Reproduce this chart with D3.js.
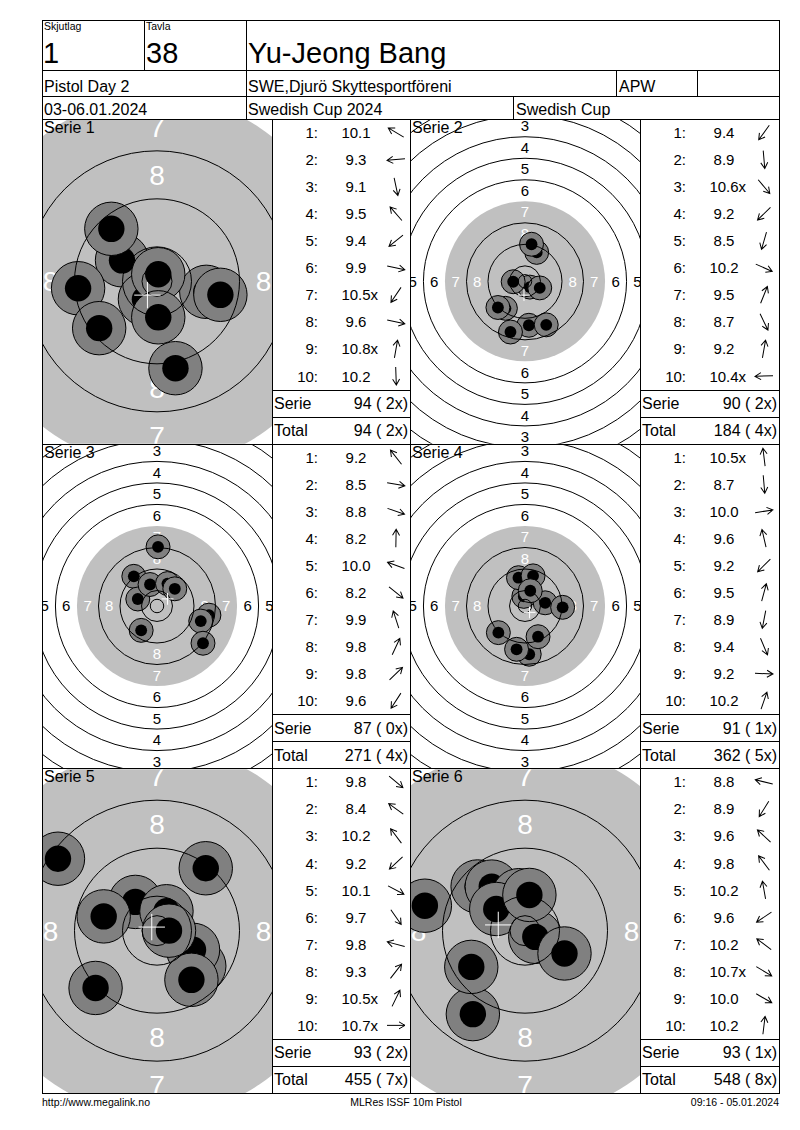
<!DOCTYPE html>
<html>
<head>
<meta charset="utf-8">
<script src="https://cdn.jsdelivr.net/npm/d3@7"></script>
<style>
  body { margin: 0; background: #fff; }
  svg { display: block; font-family: "Liberation Sans", Arial, sans-serif; }
</style>
</head>
<body>
<svg id="card" width="800" height="1130"></svg>
<script>
// header texts
const skjutlag = '1';
const tavla = '38';
const shooter = 'Yu-Jeong Bang';
const eventName = 'Pistol Day 2';
const club = 'SWE,Djurö Skyttesportföreni';
const klass = 'APW';
const dates = '03-06.01.2024';
const competition = 'Swedish Cup 2024';
const cup = 'Swedish Cup';
const footer = ['http://www.megalink.no', 'MLRes ISSF 10m Pistol', '09:16 - 05.01.2024'];

// shot values per series (decimal score) and direction of the hit (degrees, clockwise from 12 o'clock)
const scores1 = [10.1, 9.3, 9.1, 9.5, 9.4, 9.9, 10.5, 9.6, 10.8, 10.2];
const dirs1   = [301, 265, 168, 319, 231, 102, 214, 102, 10, 178];
const scores2 = [9.4, 8.9, 10.6, 9.2, 8.5, 10.2, 9.5, 8.7, 9.2, 10.4];
const dirs2   = [216, 175, 140, 226, 196, 114, 22, 154, 10, 268];
const scores3 = [9.2, 8.5, 8.8, 8.2, 10.0, 8.2, 9.9, 9.8, 9.8, 9.6];
const dirs3   = [322, 100, 109, 1, 290, 129, 342, 25, 46, 213];
const scores4 = [10.5, 8.7, 10.0, 9.6, 9.2, 9.5, 8.9, 9.4, 9.2, 10.2];
const dirs4   = [353, 175, 81, 347, 225, 15, 191, 157, 92, 19];
const scores5 = [9.8, 8.4, 10.2, 9.2, 10.1, 9.7, 9.8, 9.3, 10.5, 10.7];
const dirs5   = [130, 306, 323, 227, 118, 145, 285, 38, 26, 90];
const scores6 = [8.8, 8.9, 9.6, 9.8, 10.2, 9.6, 10.2, 10.7, 10.0, 10.2];
const dirs6   = [284, 212, 313, 323, 350, 236, 307, 121, 120, 7];

const serieNames = ['Serie 1', 'Serie 2', 'Serie 3', 'Serie 4', 'Serie 5', 'Serie 6'];
const serieViews = ['near', 'far', 'far', 'far', 'near', 'near'];

const allScores = [scores1, scores2, scores3, scores4, scores5, scores6];
const allDirs = [dirs1, dirs2, dirs3, dirs4, dirs5, dirs6];

// ISSF 10m air pistol target (mm)
const INNER_TEN = 10.4;
const ringR = k => 5.75 + 8 * (10 - k);     // outer radius of ring k
const xRingR = 2.5;
const pelletR = 2.2, haloR = 4.45;
const views = {
  near: { pxmm: 6.0, font: 28, black: 30.8 },
  far: { pxmm: 2.69, font: 15, black: ringR(7) }
};

const svg = d3.select('#card');
const L = 42, R = 779, T = 20, B = 1093;
const gridTop = 119, blockH = (B - gridTop) / 3;

function hline(y, x1, x2) {
  svg.append('line').attr('x1', x1).attr('x2', x2).attr('y1', Math.round(y) + 0.5).attr('y2', Math.round(y) + 0.5)
    .attr('stroke', '#000');
}
function vline(x, y1, y2) {
  svg.append('line').attr('x1', Math.round(x) + 0.5).attr('x2', Math.round(x) + 0.5).attr('y1', y1).attr('y2', y2)
    .attr('stroke', '#000');
}
function text(x, y, str, size, anchor) {
  return svg.append('text').attr('x', x).attr('y', y).attr('font-size', size)
    .attr('text-anchor', anchor || 'start').attr('fill', '#000').text(str);
}

// ---- header ----
text(44, 30, 'Skjutlag', 10.5);
text(146, 30, 'Tavla', 10.5);
text(43, 63, skjutlag, 29);
text(146, 63, tavla, 29);
text(248, 63, shooter, 29);
text(44, 92, eventName, 16);
text(248, 92, club, 16);
text(619, 92, klass, 16);
text(44, 114.5, dates, 16);
text(248, 114.5, competition, 16);
text(516, 114.5, cup, 16);

// ---- the six series ----
allScores.forEach((sc, i) => {
  const row = Math.floor(i / 2), col = i % 2;
  const y0 = gridTop + row * blockH, y1 = y0 + blockH;
  const tx0 = col ? 410 : 42, tx1 = col ? 640 : 272, sx1 = col ? 779 : 410;
  const v = views[serieViews[i]];
  const cx = (tx0 + tx1) / 2, cy = (y0 + y1) / 2;

  const x = d3.scaleLinear().domain([-1, 1]).range([cx - v.pxmm, cx + v.pxmm]);
  const y = d3.scaleLinear().domain([-1, 1]).range([cy + v.pxmm, cy - v.pxmm]);
  const r = d3.scaleLinear().domain([0, 1]).range([0, v.pxmm]);

  const shots = sc.map((s, j) => {
    const d = 8 * (10.95 - s);
    const a = allDirs[i][j] * Math.PI / 180;
    return { score: s, dir: allDirs[i][j], mx: d * Math.sin(a), my: d * Math.cos(a) };
  });

  const clipId = 'clip' + i;
  svg.append('clipPath').attr('id', clipId).append('rect')
    .attr('x', tx0 + 1).attr('y', y0 + 1).attr('width', tx1 - tx0 - 1).attr('height', y1 - y0 - 1);
  const g = svg.append('g').attr('clip-path', `url(#${clipId})`);

  g.append('circle').attr('cx', x(0)).attr('cy', y(0)).attr('r', r(v.black)).attr('fill', '#c0c0c0');

  // ring numbers
  const labels = [];
  d3.range(1, 9).forEach(k => {
    const m = 1.75 + 8 * (10 - k);
    [[0, m], [0, -m], [-m, 0], [m, 0]].forEach(p => labels.push({ k, px: p[0], py: p[1] }));
  });
  g.selectAll('text.num').data(labels).join('text')
    .attr('x', d => x(d.px)).attr('y', d => y(d.py))
    .attr('dy', '0.36em')
    .attr('text-anchor', 'middle').attr('font-size', v.font)
    .attr('fill', d => d.k >= 7 ? '#fff' : '#000')
    .text(d => d.k);

  // shots
  const sg = g.selectAll('g.shot').data(shots).join('g');
  sg.append('circle').attr('cx', d => x(d.mx)).attr('cy', d => y(d.my)).attr('r', r(haloR))
    .attr('fill', '#808080').attr('stroke', '#000').attr('stroke-width', 1);
  sg.append('circle').attr('cx', d => x(d.mx)).attr('cy', d => y(d.my)).attr('r', r(pelletR))
    .attr('fill', '#000');

  g.append('text').attr('x', tx0 + 2).attr('y', y0 + 14).attr('font-size', 16).text(serieNames[i]);

  // ring lines
  const rings = [1, 2, 3, 4, 5, 6, 8, 9, 10].map(ringR).concat([xRingR]);
  g.selectAll('circle.ring').data(rings).join('circle')
    .attr('cx', x(0)).attr('cy', y(0)).attr('r', d => r(d))
    .attr('fill', 'none').attr('stroke', '#000').attr('stroke-width', 1);

  // group centre cross
  const mx = d3.mean(shots, d => d.mx), my = d3.mean(shots, d => d.my);
  g.append('path')
    .attr('d', `M${x(mx - 2.2)},${y(my)}H${x(mx + 2.2)}M${x(mx)},${y(my - 2.2)}V${y(my + 2.2)}`)
    .attr('stroke', '#fff').attr('stroke-width', 1).attr('fill', 'none');

  // ---- score column ----
  const sx0 = tx1;
  const rh = blockH / 12;
  shots.forEach((d, j) => {
    const yc = y0 + rh * (j + 0.5);
    text(sx0 + 46, yc + 5.5, (j + 1) + ':', 15, 'end');
    const num = text(sx0 + 84, yc + 5.5, d.score.toFixed(1), 15, 'middle');
    if (d.score >= INNER_TEN) {
      const w = num.node().getComputedTextLength();
      text(sx0 + 84 + w / 2, yc + 5.5, 'x', 15);
    }
    svg.append('path')
      .attr('d', 'M0,9V-9M-3.5,-3L0,-9L3.5,-3')
      .attr('transform', `translate(${sx0 + 124},${yc}) rotate(${d.dir})`)
      .attr('fill', 'none').attr('stroke', '#000').attr('stroke-width', 1);
  });

  const serieSum = d3.sum(sc, s => Math.floor(s));
  const serieX = sc.filter(s => s >= INNER_TEN).length;
  const prev = allScores.slice(0, i + 1);
  const totSum = d3.sum(prev, a => d3.sum(a, s => Math.floor(s)));
  const totX = d3.sum(prev, a => a.filter(s => s >= INNER_TEN).length);
  const fmt = (n, xn) => `${n} (${String(xn).padStart(2, '\u00A0')}x)`;

  const ySerie = y0 + rh * 10, yTotal = y0 + rh * 11;
  hline(ySerie, sx0, sx1);
  hline(yTotal, sx0, sx1);
  text(sx0 + 2, ySerie + rh / 2 + 6, 'Serie', 16);
  text(sx1 - 2, ySerie + rh / 2 + 6, fmt(serieSum, serieX), 16, 'end');
  text(sx0 + 2, yTotal + rh / 2 + 6, 'Total', 16);
  text(sx1 - 2, yTotal + rh / 2 + 6, fmt(totSum, totX), 16, 'end');
});

// ---- grid lines ----
svg.append('rect').attr('x', L + 0.5).attr('y', T + 0.5).attr('width', R - L).attr('height', B - T)
  .attr('fill', 'none').attr('stroke', '#000');
hline(70, L, R);
hline(96, L, R);
hline(gridTop, L, R);
hline(gridTop + blockH, L, R);
hline(gridTop + 2 * blockH, L, R);
vline(144, T, 70);
vline(246, T, gridTop);
vline(616, 70, 96);
vline(697, 70, 96);
vline(513, 96, gridTop);
[272, 410, 640].forEach(xv => vline(xv, gridTop, B));

// ---- footer ----
text(42, 1106, footer[0], 10.5);
text(406, 1106, footer[1], 10.5, 'middle');
text(779, 1106, footer[2], 10.5, 'end');
</script>
</body>
</html>
